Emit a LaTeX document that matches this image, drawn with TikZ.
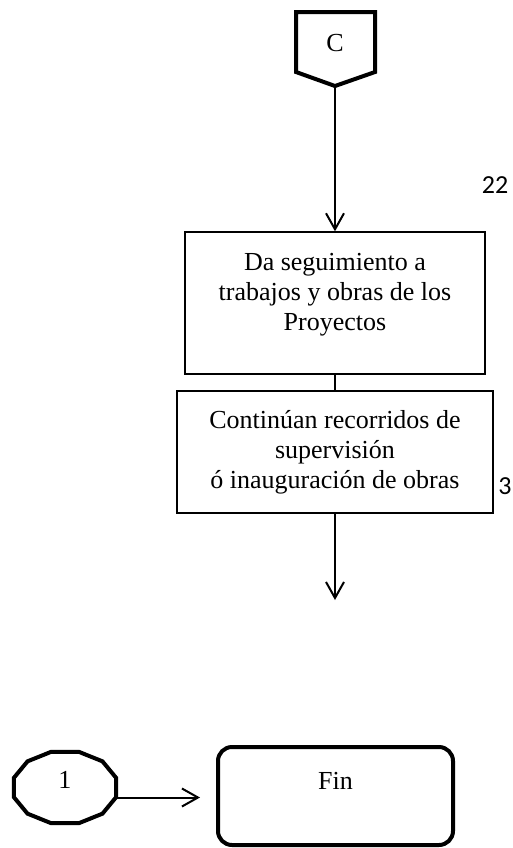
\documentclass[tikz,border=0pt]{standalone}
\usepackage{fontspec}
\setmainfont{Liberation Serif}
\newfontfamily\numfont{Carlito}
\usetikzlibrary{arrows.meta,positioning}
\tikzset{
  >={Straight Barb[length=8pt,width=9pt]},
  flow/.style ={x=0.5pt, y=-0.5pt},
  proc/.style ={draw, line width=0.7pt, align=center, inner sep=0pt, font=\fontsize{13}{15}\selectfont},
  term/.style ={draw, line width=2pt, rounded corners=7pt, align=center, inner sep=0pt, font=\fontsize{13}{15}\selectfont},
  conn/.style ={line width=2pt},
  lnk/.style  ={line width=1pt},
  tag/.style  ={inner sep=0pt, font=\numfont\fontsize{13}{15}\selectfont}
}

\begin{document}
\begin{tikzpicture}[flow]
\useasboundingbox (0,0) rectangle (513,848);
% connector C
\draw[conn] (296,12) -- (375,12) -- (375,72) -- (335,86) -- (296,72) -- cycle;
\node[inner sep=0pt, font=\fontsize{13}{15}\selectfont] (conC) at (335,43) {C};
\coordinate (cTip) at (335,87);
\node[tag] (t22) at (495,185) {22};
% processes
\node[proc, minimum width=150pt, minimum height=71pt] (seguim) at (335,303)
  {Da seguimiento a\\trabajos y obras de los\\Proyectos\\[-4pt]\mbox{}};
\node[proc, minimum width=158pt, minimum height=61pt] (recorr) at (335,452)
  {Contin\'uan recorridos de\\supervisi\'on\\\'o inauguraci\'on de obras};
\node[tag] (t3) at (505,486) {3};
\coordinate (endArr) at (335,600);
\draw[lnk,->] (cTip) -- (seguim);
\draw[lnk] (seguim) -- (recorr);
\draw[lnk,->] (recorr) -- (endArr);
% connector 1 and end
\draw[conn] plot[samples at={15,45,...,345}] ({65+53*cos(\x)},{787.5+37*sin(\x)}) -- cycle;
\node[inner sep=0pt, font=\fontsize{13}{15}\selectfont] (one) at (65,780) {1};
\coordinate (oneR) at (117,797.5);
\node[term, minimum width=117.5pt, minimum height=49pt] (fin) at (335.5,796) {Fin\\\mbox{}};
\coordinate (finL) at (200,797.5);
\draw[lnk,->] (oneR) -- (finL);
\end{tikzpicture}
\end{document}
